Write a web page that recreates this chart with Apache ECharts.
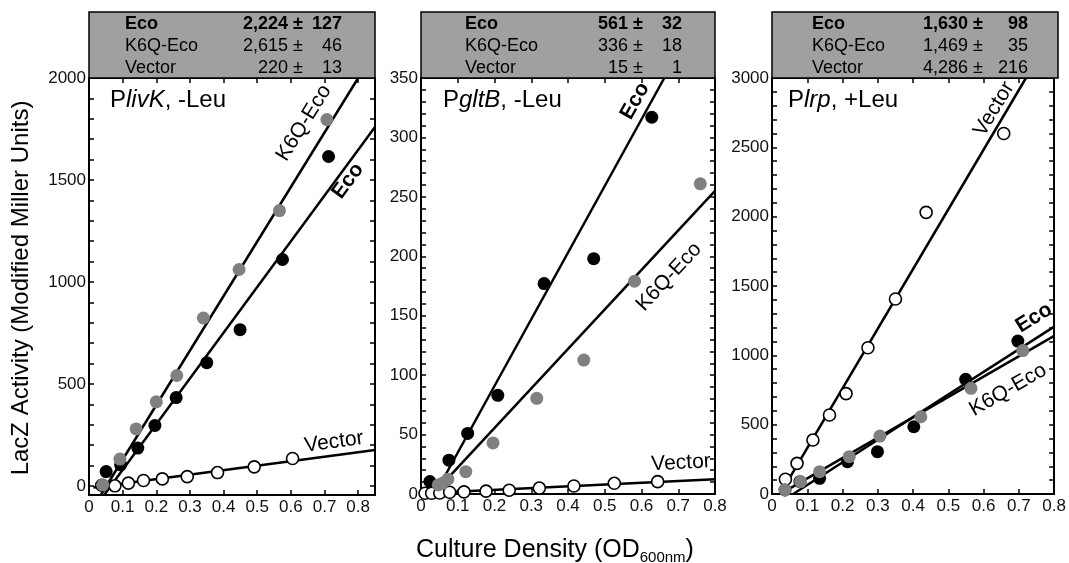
<!DOCTYPE html>
<html><head><meta charset="utf-8">
<script src="https://cdn.jsdelivr.net/npm/echarts@6/dist/echarts.min.js"></script>
<style>html,body{margin:0;padding:0;background:#fff}#c{width:1069px;height:563px}</style>
</head><body><div id="c"></div>
<script>
// ---------- data ----------
const seriesNames = ['Eco', 'K6Q-Eco', 'Vector'];
const xTicks = [0, 0.1, 0.2, 0.3, 0.4, 0.5, 0.6, 0.7, 0.8];
const yTicksA = [0, 500, 1000, 1500, 2000];
const yTicksB = [0, 50, 100, 150, 200, 250, 300, 350];
const yTicksC = [0, 500, 1000, 1500, 2000, 2500, 3000];

// Panel A: PlivK, -Leu
const livK_Eco = [[0.051,70],[0.094,103],[0.145,185],[0.196,296],[0.259,433],[0.35,604],[0.449,766],[0.575,1110],[0.712,1615]];
const livK_K6Q = [[0.041,5],[0.092,131],[0.14,279],[0.2,412],[0.261,541],[0.34,823],[0.446,1061],[0.566,1350],[0.707,1796]];
const livK_Vec = [[0.038,3],[0.077,0],[0.117,13],[0.162,26],[0.218,34],[0.292,45],[0.382,65],[0.491,93],[0.605,134]];
const livK_EcoFit = [[0.045,-45],[0.85,1760]];
const livK_K6QFit = [[0.035,-45],[0.80,2000]];
const livK_VecFit = [[0.013,-8],[0.85,176]];
const livK_val = ['2,224', '2,615', '220'];
const livK_err = ['127', '46', '13'];

// Panel B: PgltB, -Leu
const gltB_Eco = [[0.024,10.5],[0.076,28.5],[0.127,51],[0.209,83],[0.335,177],[0.47,198],[0.628,317]];
const gltB_K6Q = [[0.047,7.6],[0.058,9],[0.073,12.5],[0.122,18.8],[0.196,43],[0.315,80.5],[0.443,112.7],[0.581,179],[0.76,261]];
const gltB_Vec = [[0.011,0.6],[0.029,0.6],[0.051,0.8],[0.078,1.5],[0.117,1.8],[0.177,2.4],[0.24,3.2],[0.322,5],[0.416,6.7],[0.526,9],[0.644,10.4]];
const gltB_EcoFit = [[0.045,4],[0.662,350]];
const gltB_K6QFit = [[0.051,6],[0.8,255]];
const gltB_VecFit = [[0.008,0.6],[0.8,12.5]];
const gltB_val = ['561', '336', '15'];
const gltB_err = ['32', '18', '1'];

// Panel C: Plrp, +Leu
const lrp_Eco = [[0.037,29],[0.079,89],[0.135,113],[0.214,233],[0.299,305],[0.402,485],[0.549,827],[0.697,1103]];
const lrp_K6Q = [[0.037,29],[0.081,89],[0.135,161],[0.219,269],[0.306,418],[0.422,557],[0.564,762],[0.711,1034]];
const lrp_Vec = [[0.038,106],[0.071,221],[0.116,389],[0.163,570],[0.21,724],[0.272,1055],[0.35,1406],[0.437,2031],[0.657,2600]];
const lrp_EcoFit = [[0.06,0],[0.8,1207]];
const lrp_K6QFit = [[0.03,10],[0.8,1140]];
const lrp_VecFit = [[0.027,17],[0.72,3000]];
const lrp_val = ['1,630', '1,469', '4,286'];
const lrp_err = ['98', '35', '216'];

// ---------- layout ----------
const FF = '"Liberation Sans", Arial, Helvetica, sans-serif';
const panels = [
  { grid: {left: 89, top: 78, width: 286, height: 417}, xMax: 0.85, yMin: -45, yMax: 2000, yTicks: yTicksA,
    pts: [livK_Vec, livK_Eco, livK_K6Q], fits: [livK_VecFit, livK_EcoFit, livK_K6QFit],
    val: livK_val, err: livK_err, cols: [36, 214, 253],
    title: '{n|P}{i|livK}{n|, -Leu}', tx: 110,
    labels: [['K6Q-Eco', 304, 123, 58, false], ['Eco', 348, 181, 54, true], ['Vector', 334, 442, 7.5, false]] },
  { grid: {left: 421, top: 78, width: 294, height: 416}, xMax: 0.8, yMin: 0, yMax: 350, yTicks: yTicksB,
    pts: [gltB_Vec, gltB_Eco, gltB_K6Q], fits: [gltB_VecFit, gltB_EcoFit, gltB_K6QFit],
    val: gltB_val, err: gltB_err, cols: [44, 222, 261],
    title: '{n|P}{i|gltB}{n|, -Leu}', tx: 443,
    labels: [['Eco', 635, 101, 61, true], ['K6Q-Eco', 669, 277, 47, false], ['Vector', 681, 463, 3, false]] },
  { grid: {left: 772, top: 78, width: 286, height: 416}, xMax: 0.8, yMin: 0, yMax: 3000, yTicks: yTicksC,
    pts: [lrp_Vec, lrp_Eco, lrp_K6Q], fits: [lrp_VecFit, lrp_EcoFit, lrp_K6QFit],
    val: lrp_val, err: lrp_err, cols: [40, 211, 256],
    title: '{n|P}{i|lrp}{n|, +Leu}', tx: 788,
    labels: [['Vector', 994, 109, 59, false], ['Eco', 1034, 318, 32, true], ['K6Q-Eco', 1008, 390, 30, false]] }
];

function minorOf(ticks, n) {
  const out = [];
  for (let i = 0; i < ticks.length - 1; i++) {
    const step = (ticks[i + 1] - ticks[i]) / n;
    for (let k = 0; k < n; k++) out.push(ticks[i] + k * step);
  }
  out.push(ticks[ticks.length - 1]);
  return out;
}

const axisLine = {show: true, onZero: false, lineStyle: {color: '#000', width: 2}};
const tickStyle = {color: '#000', width: 1.5};
const labelStyle = {fontFamily: FF, fontSize: 17, color: '#111', fontWeight: 'normal'};

const grids = [], xAxes = [], yAxes = [], series = [], graphics = [], titles = [];
const ptStyles = [
  {symbolSize: 12, itemStyle: {color: '#fff', borderColor: '#000', borderWidth: 1.6, opacity: 1}},
  {symbolSize: 13, itemStyle: {color: '#000', opacity: 1}},
  {symbolSize: 13, itemStyle: {color: '#808080', opacity: 1}}
];
const ptNames = ['Vector', 'Eco', 'K6Q-Eco'];

panels.forEach((p, i) => {
  grids.push(Object.assign({containLabel: false}, p.grid));
  const xBase = {type: 'value', gridIndex: i, min: 0, max: p.xMax, axisLine, splitLine: {show: false}};
  xAxes.push(Object.assign({}, xBase, {position: 'bottom',
    axisTick: {show: true, inside: true, length: 5, customValues: xTicks, lineStyle: tickStyle},
    axisLabel: Object.assign({customValues: xTicks, margin: 4, formatter: v => v === 0 ? '0' : (+v).toFixed(1)}, labelStyle)}));
  xAxes.push(Object.assign({}, xBase, {position: 'top',
    axisTick: {show: true, inside: true, length: 5, customValues: xTicks, lineStyle: tickStyle},
    axisLabel: {show: false}}));
  const yBase = {type: 'value', gridIndex: i, min: p.yMin, max: p.yMax, axisLine, splitLine: {show: false}};
  const yMinor = minorOf(p.yTicks, 5);
  yAxes.push(Object.assign({}, yBase, {position: 'left',
    axisTick: {show: true, inside: true, length: 5, customValues: yMinor, lineStyle: tickStyle},
    axisLabel: Object.assign({customValues: p.yTicks, margin: 3, formatter: v => String(Math.round(v))}, labelStyle)}));
  yAxes.push(Object.assign({}, yBase, {position: 'right',
    axisTick: {show: true, inside: true, length: 5, customValues: yMinor, lineStyle: tickStyle},
    axisLabel: {show: false}}));

  p.fits.forEach((f, k) => {
    series.push({type: 'line', name: ptNames[k] + ' fit', xAxisIndex: 2 * i, yAxisIndex: 2 * i, data: f,
      symbol: 'none', silent: true, z: 2, clip: true, lineStyle: {color: '#000', width: 2.5}});
  });
  p.pts.forEach((d, k) => {
    series.push(Object.assign({type: 'scatter', name: ptNames[k], xAxisIndex: 2 * i, yAxisIndex: 2 * i, data: d,
      symbol: 'circle', z: 3 + k, silent: true}, ptStyles[k]));
  });

  // header box
  const L = p.grid.left, W = p.grid.width;
  graphics.push({type: 'rect', z: 60, shape: {x: L, y: 12, width: W, height: 66},
    style: {fill: '#a0a0a0', stroke: '#000', lineWidth: 1.5}});
  seriesNames.forEach((nm, r) => {
    const y = 24 + r * 22;
    const font = (r === 0 ? 'bold ' : '') + '18px ' + FF;
    const mk = (text, x, align) => ({type: 'text', z: 61, x, y,
      style: {text, font, fill: '#000', align, textAlign: align, verticalAlign: 'middle', textVerticalAlign: 'middle'}});
    graphics.push(mk(nm, L + p.cols[0], 'left'));
    graphics.push(mk(p.val[r] + ' \u00b1', L + p.cols[1], 'right'));
    graphics.push(mk(p.err[r], L + p.cols[2], 'right'));
  });
  // line labels
  p.labels.forEach(([text, x, y, deg, bold]) => {
    graphics.push({type: 'text', z: 50, x, y, rotation: deg * Math.PI / 180,
      style: {text, font: (bold ? 'bold ' : '') + '21px ' + FF, fill: '#000',
        align: 'center', textAlign: 'center', verticalAlign: 'middle', textVerticalAlign: 'middle'}});
  });
  titles.push({text: p.title, left: p.tx, top: 86, padding: 0, textAlign: 'left', textVerticalAlign: 'top',
    textStyle: {fontWeight: 'normal', rich: {
      n: {fontFamily: FF, fontSize: 24, color: '#000', lineHeight: 28, fontWeight: 'normal'},
      i: {fontFamily: FF, fontSize: 24, color: '#000', lineHeight: 28, fontStyle: 'italic', fontWeight: 'normal'}}}});
});

titles.push({text: '{m|Culture Density (OD}{s|600nm}{m|)}', left: 555, top: 535, padding: 0,
  textAlign: 'center', textVerticalAlign: 'top',
  textStyle: {fontWeight: 'normal', rich: {
    m: {fontFamily: FF, fontSize: 25, color: '#000', lineHeight: 30, fontWeight: 'normal'},
    s: {fontFamily: FF, fontSize: 15, color: '#000', lineHeight: 15, verticalAlign: 'bottom', fontWeight: 'normal'}}}});

graphics.push({type: 'text', z: 50, x: 21, y: 288, rotation: Math.PI / 2,
  style: {text: 'LacZ Activity (Modified Miller Units)', font: '24px ' + FF, fill: '#000',
    align: 'center', textAlign: 'center', verticalAlign: 'middle', textVerticalAlign: 'middle'}});

const chart = echarts.init(document.getElementById('c'), null, {renderer: 'canvas'});
chart.setOption({
  animation: false,
  backgroundColor: '#fff',
  title: titles,
  grid: grids,
  xAxis: xAxes,
  yAxis: yAxes,
  series,
  graphic: graphics
});
</script>
</body></html>
